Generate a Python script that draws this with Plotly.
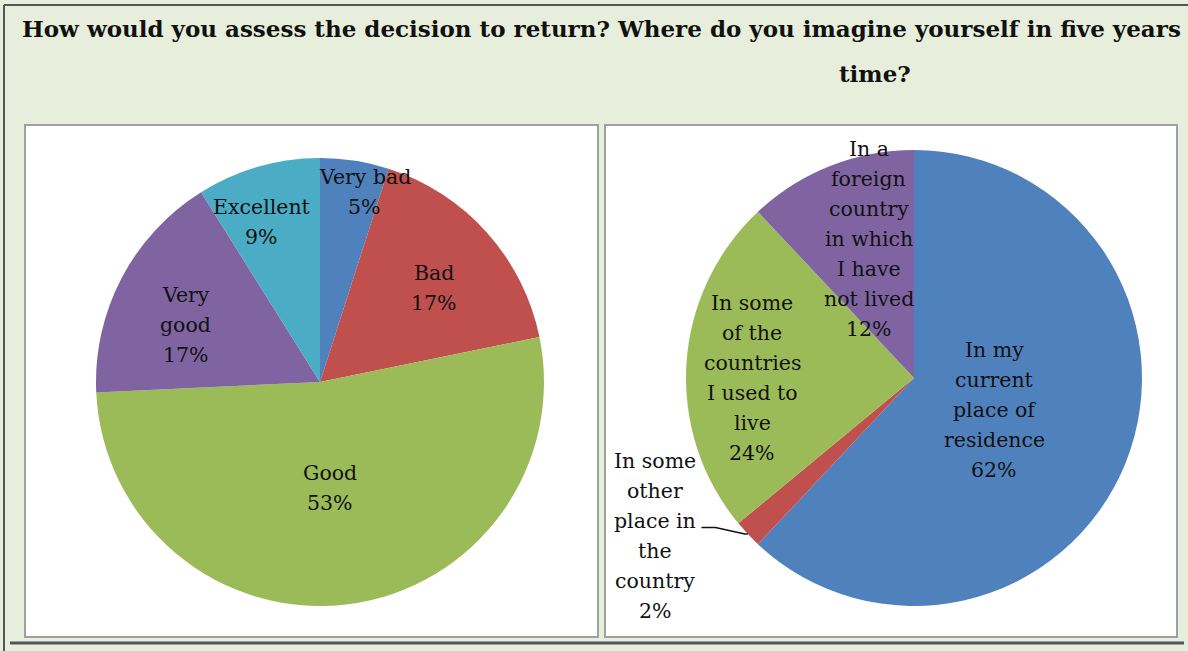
import math
import plotly.graph_objects as go

W, H = 1188, 651

# Left chart: assessment of the decision to return
assess_labels = ["Very bad", "Bad", "Good", "Very good", "Excellent"]
assess_lines = [["Very bad"], ["Bad"], ["Good"], ["Very", "good"], ["Excellent"]]
assess_values = [5, 17, 53, 17, 9]
assess_colors = ["#4F81BD", "#C0504D", "#9BBB59", "#8064A2", "#4BACC6"]

# Right chart: where respondents see themselves in five years
future_labels = [
    "In my current place of residence",
    "In some other place in the country",
    "In some of the countries I used to live",
    "In a foreign country in which I have not lived",
]
future_lines = [
    ["In my", "current", "place of", "residence"],
    ["In some", "other", "place in", "the", "country"],
    ["In some", "of the", "countries", "I used to", "live"],
    ["In a", "foreign", "country", "in which", "I have", "not lived"],
]
future_values = [62, 2, 24, 12]
future_colors = ["#4F81BD", "#C0504D", "#9BBB59", "#8064A2"]

# label placement: (radius fraction, angular nudge in degrees)
assess_label_pos = [(0.87, 4.4), (0.66, 2.4), (0.475, 1.7), (0.65, -4.6), (0.76, -4.0)]
future_label_pos = [(0.38, 0.4), (1.33, 11.7), (0.71, -3.6), (0.64, 3.6)]

BG = "#E7EEDB"
FONT = "DejaVu Serif"
LABEL_SIZE = 20.5
LINE_H = 30


def px(x):
    return x / W


def py(y):
    return 1 - y / H


def pie_geometry(cx, cy, r):
    return dict(x=[px(cx - r), px(cx + r)], y=[py(cy + r), py(cy - r)])


left_c, left_r = (320, 382), 224
right_c, right_r = (914, 378), 228

fig = go.Figure()
for vals, cols, labs, (c, r) in [
    (assess_values, assess_colors, assess_labels, (left_c, left_r)),
    (future_values, future_colors, future_labels, (right_c, right_r)),
]:
    fig.add_trace(go.Pie(
        values=vals, labels=labs, sort=False, direction="clockwise", rotation=0,
        marker=dict(colors=cols, line=dict(width=0)),
        textinfo="none", hoverinfo="label+value", showlegend=False,
        domain=pie_geometry(c[0], c[1], r),
    ))

annotations = []
shapes = []


def place_labels(values, lines, pos, center, radius, outside_idx=None):
    total = sum(values)
    start = 0
    for i, v in enumerate(values):
        mid = (start + v / 2) / total * 360
        start += v
        frac, nudge = pos[i]
        a = math.radians(mid + nudge)
        lx = center[0] + frac * radius * math.sin(a)
        ly = center[1] - frac * radius * math.cos(a)
        block = lines[i] + [f"{v}%"]
        n = len(block)
        for k, t in enumerate(block):
            yy = ly + (k - (n - 1) / 2) * LINE_H
            annotations.append(dict(
                x=px(lx), y=py(yy), xref="paper", yref="paper", text=t,
                showarrow=False, xanchor="center", yanchor="middle",
                font=dict(family=FONT, size=LABEL_SIZE, color="#111111"),
            ))
        if i == outside_idx:
            am = math.radians(mid)
            ex = center[0] + radius * math.sin(am)
            ey = center[1] - radius * math.cos(am)
            kx, ky = lx + 46, ly - 9
            shapes.append(dict(
                type="path", xref="paper", yref="paper",
                path=f"M {px(kx)} {py(ky)} L {px(kx + 14)} {py(ky)} L {px(ex - 3)} {py(ey)} L {px(ex)} {py(ey)}",
                line=dict(color="#111111", width=1.5), layer="above",
            ))


place_labels(assess_values, assess_lines, assess_label_pos, left_c, left_r)
place_labels(future_values, future_lines, future_label_pos, right_c, right_r, outside_idx=1)

# panel frames
for x0, x1 in [(25, 598), (605, 1177)]:
    shapes.append(dict(type="rect", xref="paper", yref="paper",
                       x0=px(x0), x1=px(x1), y0=py(637), y1=py(125),
                       fillcolor="white", line=dict(color="#A0A0A0", width=2), layer="below"))
# outer frame lines
shapes += [
    dict(type="line", xref="paper", yref="paper", x0=px(4), x1=px(1188), y0=py(5), y1=py(5),
         line=dict(color="#555555", width=2), layer="below"),
    dict(type="line", xref="paper", yref="paper", x0=px(4), x1=px(4), y0=py(5), y1=py(651),
         line=dict(color="#555555", width=2), layer="below"),
    dict(type="line", xref="paper", yref="paper", x0=px(10), x1=px(1184), y0=py(643), y1=py(643),
         line=dict(color="#555555", width=3), layer="below"),
]

annotations += [
    dict(x=px(20), y=py(29), xref="paper", yref="paper", xanchor="left", yanchor="middle",
         showarrow=False,
         text="<b>How would you assess the decision to return? Where do you imagine yourself in five years</b>",
         font=dict(family=FONT, size=23, color="#111111")),
    dict(x=px(875), y=py(73), xref="paper", yref="paper", xanchor="center", yanchor="middle",
         showarrow=False, text="<b>time?</b>",
         font=dict(family=FONT, size=23, color="#111111")),
]

fig.update_layout(
    width=W, height=H, margin=dict(l=0, r=0, t=0, b=0),
    paper_bgcolor=BG, plot_bgcolor=BG,
    shapes=shapes, annotations=annotations,
)

fig.write_html("out.html")
